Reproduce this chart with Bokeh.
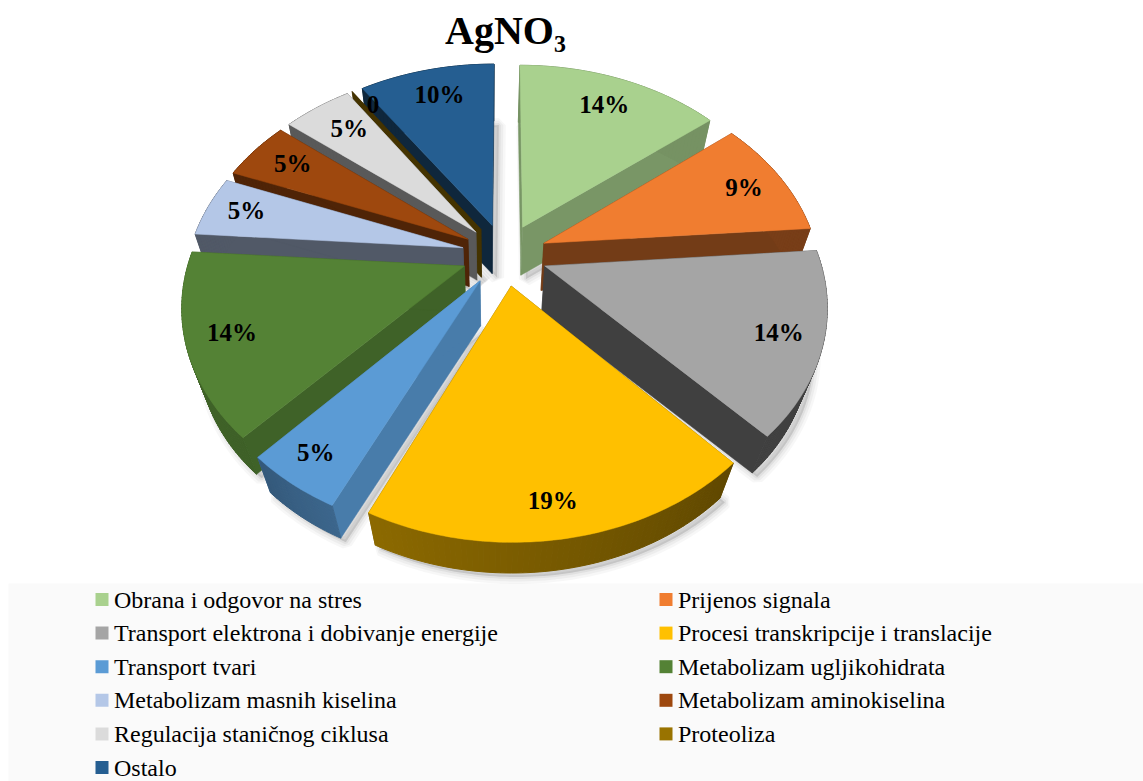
import math
from bokeh.plotting import figure
from bokeh.models import Range1d
from bokeh.core.properties import value
from bokeh.embed import file_html
from bokeh.resources import INLINE

# data
categories = ["Obrana i odgovor na stres", "Prijenos signala",
              "Transport elektrona i dobivanje energije", "Procesi transkripcije i translacije",
              "Transport tvari", "Metabolizam ugljikohidrata",
              "Metabolizam masnih kiselina", "Metabolizam aminokiselina",
              "Regulacija staničnog ciklusa", "Proteoliza", "Ostalo"]
values = [14.3, 9.5, 14.3, 19.0, 4.8, 14.3, 4.8, 4.8, 4.8, 0, 9.5]
labels = ["14%", "9%", "14%", "19%", "5%", "14%", "5%", "5%", "5%", "0", "10%"]

# styles
top_colors = ["#A9D18E", "#F07D30", "#A5A5A5", "#FFC000", "#5B9BD5", "#548235",
              "#B4C7E7", "#9E480E", "#DBDBDB", "#997300", "#255E91"]
radial_shade = [0.72, 0.48, 0.39, 0.45, 0.80, 0.76, 0.45, 0.50, 0.41, 0.45, 0.42]
arc_shade = [(.7, .7), (.5, .5), (.39, .39), (.38, .55), (.66, .58), (.74, .8),
             (.45, .45), (.5, .5), (.41, .41), (.45, .45), (.42, .42)]
label_r = [.81, .84, .85, .87, .875, .845, .85, .82, .80, .875, .82]
label_shift = [0, .4, .2, .8, .8, .1, .6, .8, 1.2, 2.0, .8]
draw_order = [10, 0, 9, 8, 7, 1, 6, 2, 5, 4, 3]

# projection (pixel space of the reference)
CX, CY, A, B, K = 504, 254, 274, 199, 0.175
EXPLODE = 0.156
NX, NY, DEPTH = 490, 1100, 0.055


def proj(u, v):
    w = 1 + K * v
    return CX + A * u / w, CY - B * v / w


def lower(pt):
    return pt[0] + (NX - pt[0]) * DEPTH, pt[1] + (NY - pt[1]) * DEPTH


def shade(col, f):
    r, g, b = int(col[1:3], 16), int(col[3:5], 16), int(col[5:7], 16)
    return "#%02x%02x%02x" % (int(r * f), int(g * f), int(b * f))


def mix(a, b, t):
    return a + (b - a) * t


p = figure(width=1143, height=781, x_range=Range1d(0, 1143), y_range=Range1d(781, 0),
           toolbar_location=None, output_backend="svg", min_border=0)
p.axis.visible = False
p.grid.visible = False
p.outline_line_color = None
p.background_fill_color = "white"
p.border_fill_color = "white"

total = sum(values)
slices = []
start = 0.0
for i, val in enumerate(values):
    end = start + val / total * 360
    mid = (start + end) / 2
    rad = math.radians(mid)
    ax, ay = EXPLODE * math.sin(rad), EXPLODE * math.cos(rad)
    n = max(2, int(end - start) + 2)
    thetas = [math.radians(mix(start, end, t / n)) for t in range(n + 1)]
    rim = [proj(ax + math.sin(t), ay + math.cos(t)) for t in thetas]
    slices.append(dict(i=i, mid=mid, apex=proj(ax, ay), rim=rim, ax=ax, ay=ay, val=val))
    start = end

# legend band
p.quad(left=8, right=1143, top=583, bottom=781, fill_color="#FAFAFA", line_color=None)

# soft drop shadows under the pie
for s in slices:
    poly = [s["apex"]] + s["rim"]
    low = [lower(q) for q in poly]
    xs = [q[0] + 5 for q in low]
    ys = [q[1] + 4 for q in low]
    for lw, al in ((14, .03), (9, .04), (4, .05)):
        p.patch(xs, ys, fill_color="black", fill_alpha=al, line_color="black",
                line_alpha=al, line_width=lw)

# slices far to near
for i in draw_order:
    s = slices[i]
    col = top_colors[i]
    apex, rim = s["apex"], s["rim"]
    la = lower(apex)
    for edge in (rim[0], rim[-1]):
        le = lower(edge)
        c = shade(col, radial_shade[i])
        p.patch([apex[0], edge[0], le[0], la[0]], [apex[1], edge[1], le[1], la[1]],
                fill_color=c, line_color=c, line_width=0.5)
    if s["val"] > 0:
        f0, f1 = arc_shade[i]
        for j in range(len(rim) - 1):
            a, b = rim[j], rim[j + 1]
            la2, lb2 = lower(a), lower(b)
            c = shade(col, mix(f0, f1, j / max(1, len(rim) - 2)))
            p.patch([a[0], b[0], lb2[0], la2[0]], [a[1], b[1], lb2[1], la2[1]],
                    fill_color=c, line_color=c, line_width=1)
        p.patch([apex[0]] + [q[0] for q in rim], [apex[1]] + [q[1] for q in rim],
                fill_color=col, line_color=col, line_width=0.5)

# value labels
lx, ly = [], []
for s in slices:
    t = math.radians(s["mid"] + label_shift[s["i"]])
    q = proj(s["ax"] + label_r[s["i"]] * math.sin(t), s["ay"] + label_r[s["i"]] * math.cos(t))
    lx.append(q[0])
    ly.append(q[1])
p.text(lx, ly, text=labels, text_font=value("Liberation Serif"), text_font_style="bold",
       text_font_size="25px", text_color="black", text_align="center", text_baseline="middle")

# title
p.text([505], [30], text=["AgNO₃"], text_font=value("Liberation Serif"), text_font_style="bold",
       text_font_size="40px", text_color="black", text_align="center", text_baseline="middle")

# legend
cols = [i % 2 for i in range(len(categories))]
rows = [i // 2 for i in range(len(categories))]
sx = [101.5 + 564 * c for c in cols]
sy = [599 + 33.6 * r for r in rows]
p.scatter(sx, sy, marker="square", size=13, fill_color=top_colors, line_color=None)
p.text([113.5 + 564 * c for c in cols], sy, text=categories, text_font=value("Liberation Serif"),
       text_font_size="24px", text_color="black", text_align="left", text_baseline="middle")

open("out.html", "w").write(file_html(p, INLINE))
